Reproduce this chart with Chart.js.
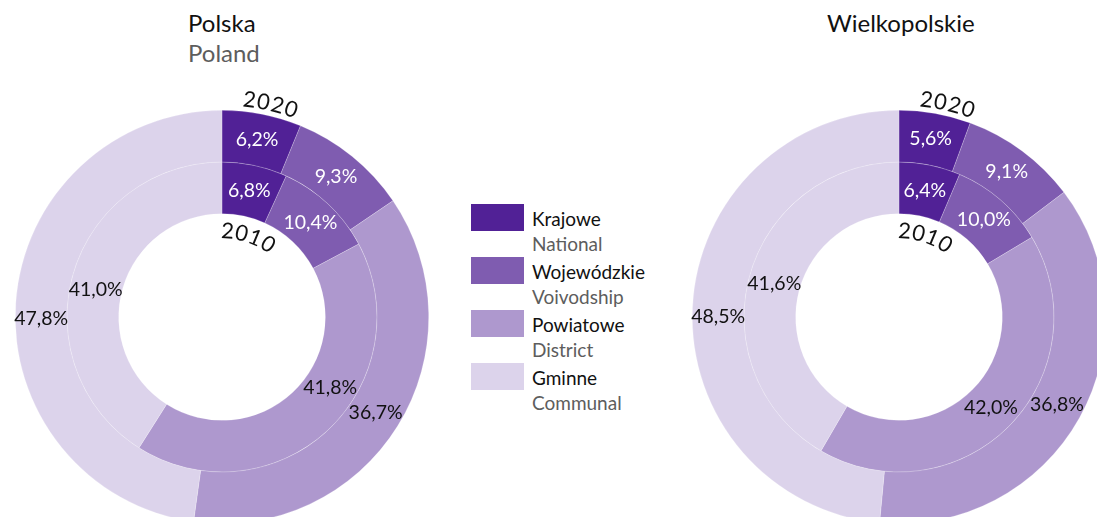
<!DOCTYPE html>
<html><head><meta charset="utf-8">
<script src="https://cdn.jsdelivr.net/npm/chart.js@4"></script>
<style>
html,body{margin:0;padding:0;background:#fff;}
#wrap{position:relative;width:1097px;height:517px;overflow:hidden;background:#fff;font-family:Lato, "Open Sans", sans-serif;}
canvas{position:absolute;}
.t{position:absolute;white-space:nowrap;line-height:1;}
.box{position:absolute;width:53px;height:27px;}
</style></head><body>
<div id="wrap">
<canvas id="c1" width="464" height="464" style="left:-10px;top:85px"></canvas>
<canvas id="c2" width="464" height="464" style="left:667px;top:85px"></canvas>
</div>
<script>
// ---- data ----
const categoriesPL = ['Krajowe', 'Wojewódzkie', 'Powiatowe', 'Gminne'];
const categoriesEN = ['National', 'Voivodship', 'District', 'Communal'];
const years = ['2020', '2010'];
const polska2020 = [6.2, 9.3, 36.7, 47.8];
const polska2010 = [6.8, 10.4, 41.8, 41.0];
const wlkp2020 = [5.6, 9.1, 36.8, 48.5];
const wlkp2010 = [6.4, 10.0, 42.0, 41.6];
const titlesPL = ['Polska', 'Wielkopolskie'];
const titlesEN = ['Poland', ''];

// ---- styles ----
const colors = ['#512196', '#7f5cb0', '#ae98ce', '#dcd3eb'];
const labelColors = ['#ffffff', '#ffffff', '#111111', '#111111'];
const FONT = 'Lato, "Open Sans", sans-serif';

const wrap = document.getElementById('wrap');
function addText(txt, left, top, size, color) {
  const d = document.createElement('div');
  d.className = 't';
  d.textContent = txt;
  d.style.left = left + 'px';
  d.style.top = top + 'px';
  d.style.fontSize = size + 'px';
  d.style.color = color;
  wrap.appendChild(d);
}
// titles
addText(titlesPL[0], 188, 11, 24, '#111');
addText(titlesEN[0], 188, 41, 24, '#5d5d5d');
addText(titlesPL[1], 827, 11, 24, '#111');
// legend
categoriesPL.forEach((c, i) => {
  const b = document.createElement('div');
  b.className = 'box';
  b.style.left = '471px';
  b.style.top = (204 + 53 * i) + 'px';
  b.style.background = colors[i];
  wrap.appendChild(b);
  addText(c, 532, 209 + 53 * i, 19, '#111');
  addText(categoriesEN[i], 532, 234 + 53 * i, 19, '#5d5d5d');
});

function fmt(v) { return v.toFixed(1).replace('.', ',') + '%'; }

function arcText(ctx, text, cx, cy, r, centerDeg, spacing) {
  const chars = [...text];
  const widths = chars.map(c => ctx.measureText(c).width);
  const total = widths.reduce((s, w) => s + w, 0) + spacing * (chars.length - 1);
  let a = centerDeg * Math.PI / 180 - total / 2 / r;
  chars.forEach((c, k) => {
    const w = widths[k];
    const ac = a + w / 2 / r;
    ctx.save();
    ctx.translate(cx + r * Math.sin(ac), cy - r * Math.cos(ac));
    ctx.rotate(ac);
    ctx.fillText(c, 0, 0);
    ctx.restore();
    a += (w + spacing) / r;
  });
}

const sliceLabels = {
  id: 'sliceLabels',
  afterDatasetsDraw(chart, args, opts) {
    const ctx = chart.ctx;
    ctx.save();
    ctx.textAlign = 'center';
    ctx.textBaseline = 'middle';
    ctx.font = '19.5px ' + FONT;
    chart.data.datasets.forEach((ds, di) => {
      const meta = chart.getDatasetMeta(di);
      meta.data.forEach((arc, i) => {
        const p = arc.getProps(['x', 'y', 'startAngle', 'endAngle', 'innerRadius', 'outerRadius'], true);
        let a = (p.startAngle + p.endAngle) / 2;
        const adj = (opts.adjust || {})[di + '-' + i];
        if (adj) a += adj * Math.PI / 180;
        const r = (p.innerRadius + p.outerRadius) / 2;
        ctx.fillStyle = labelColors[i];
        ctx.fillText(fmt(ds.data[i]), p.x + Math.cos(a) * r, p.y + Math.sin(a) * r);
      });
    });
    // year labels along arcs
    const outer = chart.getDatasetMeta(0).data[0];
    const inner = chart.getDatasetMeta(1).data[0];
    ctx.fillStyle = '#111';
    ctx.font = '22px ' + FONT;
    arcText(ctx, chart.data.datasets[0].label, outer.x, outer.y, outer.outerRadius + 12, 12.8, 1.5);
    arcText(ctx, chart.data.datasets[1].label, inner.x, inner.y, inner.innerRadius - 17.5, 18, 1.5);
    ctx.restore();
  }
};

function makeChart(id, d2020, d2010, adjust) {
  return new Chart(document.getElementById(id), {
    type: 'doughnut',
    data: {
      labels: categoriesPL,
      datasets: [
        { label: years[0], data: d2020, backgroundColor: colors },
        { label: years[1], data: d2010, backgroundColor: colors }
      ]
    },
    options: {
      responsive: false,
      animation: false,
      events: [],
      cutout: '50%',
      rotation: 0,
      layout: { padding: 25 },
      elements: { arc: { borderColor: 'rgba(255,255,255,0.35)', borderWidth: 0.6 } },
      plugins: {
        legend: { display: false },
        tooltip: { enabled: false },
        sliceLabels: { adjust: adjust }
      }
    },
    plugins: [sliceLabels]
  });
}
makeChart('c1', polska2020, polska2010, { '1-2': -14, '0-3': -4.6, '1-3': -4 });
makeChart('c2', wlkp2020, wlkp2010, { '0-3': -2.7 });
</script>
</body></html>
